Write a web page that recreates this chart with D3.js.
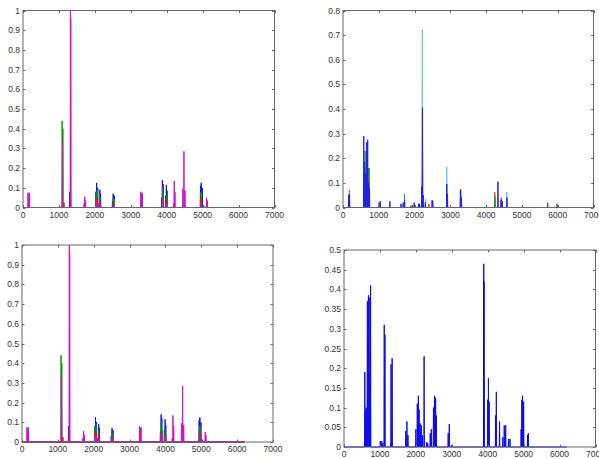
<!DOCTYPE html>
<html lang="en">
<head>
    <meta charset="UTF-8">
    <title>Spectra panels</title>
    <script src="https://d3js.org/d3.v7.js"></script>
    <style>
        body { margin: 0; background: #fff; }
        svg text { font-family: "Liberation Sans", Arial, sans-serif; font-size: 8.5px; fill: #333; }
    </style>
</head>
<body>
    <svg></svg>
    <script>
        const width = 599;
        const height = 459;

        // x ticks shared by all panels
        const xTicks = [0, 1000, 2000, 3000, 4000, 5000, 6000, 7000];
        const yTicksA = [0, 0.1, 0.2, 0.3, 0.4, 0.5, 0.6, 0.7, 0.8, 0.9, 1];
        const yTicksB = [0, 0.1, 0.2, 0.3, 0.4, 0.5, 0.6, 0.7, 0.8];
        const yTicksD = [0, 0.05, 0.1, 0.15, 0.2, 0.25, 0.3, 0.35, 0.4, 0.45, 0.5];

        // peaks: [position, height]
        const leftBlue = [[2030, 0.08], [2050, 0.125], [2080, 0.1], [2140, 0.09], [2160, 0.07],
            [2490, 0.03], [2510, 0.07], [2540, 0.06], [3860, 0.05], [3880, 0.14], [3900, 0.12],
            [3970, 0.06], [3990, 0.115], [4010, 0.085], [4940, 0.11], [4960, 0.125], [4990, 0.1]];
        const leftGreen = [[1090, 0.44], [1110, 0.40], [2040, 0.08], [2070, 0.09], [2140, 0.06],
            [2510, 0.045], [2540, 0.04], [3880, 0.1], [3900, 0.07], [3990, 0.06], [4010, 0.045],
            [4950, 0.08], [4970, 0.075]];
        const leftRed = [[1120, 0.02], [1140, 0.025], [1320, 0.07], [2040, 0.045], [2070, 0.05],
            [2150, 0.03], [2520, 0.03], [3890, 0.05], [4000, 0.04], [4960, 0.05], [5120, 0.02]];
        const leftDark = [[1300, 0.08], [1310, 0.05], [5000, 0.01], [5030, 0.012]];
        const leftMagenta = [[140, 0.075], [160, 0.065], [180, 0.075], [1100, 0.34], [1320, 1.0],
            [1330, 0.96], [1700, 0.02], [1720, 0.055], [1740, 0.035], [2030, 0.02], [2060, 0.03],
            [2100, 0.02], [2160, 0.015], [2520, 0.02], [3280, 0.08], [3300, 0.07], [3320, 0.075],
            [3880, 0.04], [3990, 0.03], [4190, 0.02], [4210, 0.135], [4230, 0.08], [4450, 0.095],
            [4480, 0.285], [4510, 0.085], [4950, 0.02], [5110, 0.05], [5130, 0.035]];

        const rightRed = [[180, 0.07], [640, 0.16], [700, 0.14], [720, 0.16], [2220, 0.72],
            [2400, 0.015], [3290, 0.075], [4240, 0.062], [4420, 0.04]];
        const rightGreen = [[620, 0.23], [700, 0.16], [730, 0.16], [1720, 0.055], [2230, 0.05],
            [3300, 0.06], [4250, 0.045]];
        const rightCyan = [[170, 0.06], [660, 0.08], [720, 0.08], [2220, 0.715], [2310, 0.035],
            [2900, 0.165], [3300, 0.065], [4580, 0.062]];
        const rightDark = [[600, 0.02], [1900, 0.008], [1940, 0.01], [5720, 0.02], [5980, 0.015]];
        const rightMagenta = [[180, 0.01], [620, 0.015], [680, 0.01], [2220, 0.01]];
        const rightBlue = [[160, 0.05], [180, 0.055], [580, 0.29], [600, 0.185], [620, 0.14],
            [660, 0.265], [690, 0.275], [710, 0.1], [740, 0.08], [1010, 0.02], [1040, 0.025],
            [1310, 0.025], [1620, 0.015], [1680, 0.02], [1720, 0.03], [1990, 0.02], [2110, 0.015],
            [2140, 0.015], [2200, 0.085], [2220, 0.405], [2240, 0.05], [2300, 0.02], [2490, 0.03],
            [2510, 0.025], [2900, 0.095], [2920, 0.055], [3280, 0.07], [3310, 0.04], [4330, 0.105],
            [4420, 0.03], [4450, 0.025], [4580, 0.04]];

        const bottomBlue = [[570, 0.01], [580, 0.19], [600, 0.095], [620, 0.10], [650, 0.37],
            [680, 0.385], [700, 0.19], [720, 0.38], [740, 0.41], [1010, 0.015], [1050, 0.015],
            [1080, 0.01], [1120, 0.31], [1140, 0.285], [1300, 0.01], [1310, 0.21], [1340, 0.225],
            [1720, 0.04], [1750, 0.065], [1780, 0.03], [2000, 0.045], [2040, 0.11], [2070, 0.13],
            [2090, 0.095], [2120, 0.06], [2150, 0.055], [2180, 0.03], [2230, 0.23], [2300, 0.012],
            [2330, 0.01], [2400, 0.035], [2430, 0.045], [2490, 0.1], [2520, 0.13], [2550, 0.125],
            [2570, 0.08], [2900, 0.035], [2930, 0.058], [2990, 0.005], [3890, 0.465], [3900, 0.42],
            [4000, 0.12], [4020, 0.175], [4040, 0.115], [4220, 0.08], [4240, 0.14], [4330, 0.065],
            [4420, 0.025], [4460, 0.055], [4500, 0.055], [4580, 0.02], [4620, 0.02], [4930, 0.045],
            [4950, 0.12], [4970, 0.13], [5000, 0.115], [5110, 0.03], [5130, 0.035]];

        const xEnd = 6200;

        const panels = [
            { box: [23, 10.5, 274.5, 207.5], yMax: 1, yTicks: yTicksA,
              series: [[leftDark, "#333"], [leftBlue, "#1010f0"], [leftGreen, "#109010"],
                       [leftRed, "#f01010"], [leftMagenta, "#cc11cc"]] },
            { box: [343, 10.5, 593.5, 207.5], yMax: 0.8, yTicks: yTicksB,
              series: [[rightDark, "#555"], [rightRed, "#f03030"], [rightGreen, "#20a020"],
                       [rightCyan, "#50d8d8"], [rightMagenta, "#c020c0"], [rightBlue, "#2020f0"]] },
            { box: [22, 245, 273, 442], yMax: 1, yTicks: yTicksA,
              series: [[leftDark, "#333"], [leftBlue, "#1010f0"], [leftGreen, "#109010"],
                       [leftRed, "#f01010"], [leftMagenta, "#cc11cc"]] },
            { box: [344, 250, 595.5, 447], yMax: 0.5, yTicks: yTicksD,
              series: [[bottomBlue, "#0a0af0"]] }
        ];

        const svg = d3.select("svg")
            .attr("width", width)
            .attr("height", height);

        panels.forEach(p => {
            const [x0, y0, x1, y1] = p.box;
            const x = d3.scaleLinear().domain([0, 7000]).range([x0, x1]);
            const y = d3.scaleLinear().domain([0, p.yMax]).range([y1, y0]);
            const g = svg.append("g");

            const line = d3.line().x(d => x(d[0])).y(d => y(d[1]));

            p.series.forEach(([peaks, color]) => {
                const pts = [[0, 0]];
                peaks.forEach(([px, h]) => {
                    pts.push([px - 8, 0], [px, h], [px + 8, 0]);
                });
                pts.push([xEnd, 0]);
                g.append("path")
                    .attr("d", line(pts))
                    .attr("fill", "none")
                    .attr("stroke", color)
                    .attr("stroke-width", 1);
            });

            // box
            g.append("rect")
                .attr("x", x0).attr("y", y0)
                .attr("width", x1 - x0).attr("height", y1 - y0)
                .attr("fill", "none")
                .attr("stroke", "#666")
                .attr("stroke-width", 1);

            // x ticks (inside, bottom and top)
            xTicks.forEach(t => {
                const xx = Math.round(x(t)) + 0.5;
                g.append("line").attr("x1", xx).attr("x2", xx).attr("y1", y1).attr("y2", y1 - 2.5)
                    .attr("stroke", "#666");
                g.append("line").attr("x1", xx).attr("x2", xx).attr("y1", y0).attr("y2", y0 + 2.5)
                    .attr("stroke", "#666");
                g.append("text")
                    .attr("x", x(t)).attr("y", y1 + 10)
                    .attr("text-anchor", "middle")
                    .text(t);
            });

            // y ticks (inside, left and right)
            p.yTicks.forEach(t => {
                const yy = Math.round(y(t)) + 0.5;
                g.append("line").attr("x1", x0).attr("x2", x0 + 2.5).attr("y1", yy).attr("y2", yy)
                    .attr("stroke", "#666");
                g.append("line").attr("x1", x1).attr("x2", x1 - 2.5).attr("y1", yy).attr("y2", yy)
                    .attr("stroke", "#666");
                g.append("text")
                    .attr("x", x0 - 3).attr("y", y(t) + 3)
                    .attr("text-anchor", "end")
                    .text(t);
            });
        });
    </script>
</body>
</html>
